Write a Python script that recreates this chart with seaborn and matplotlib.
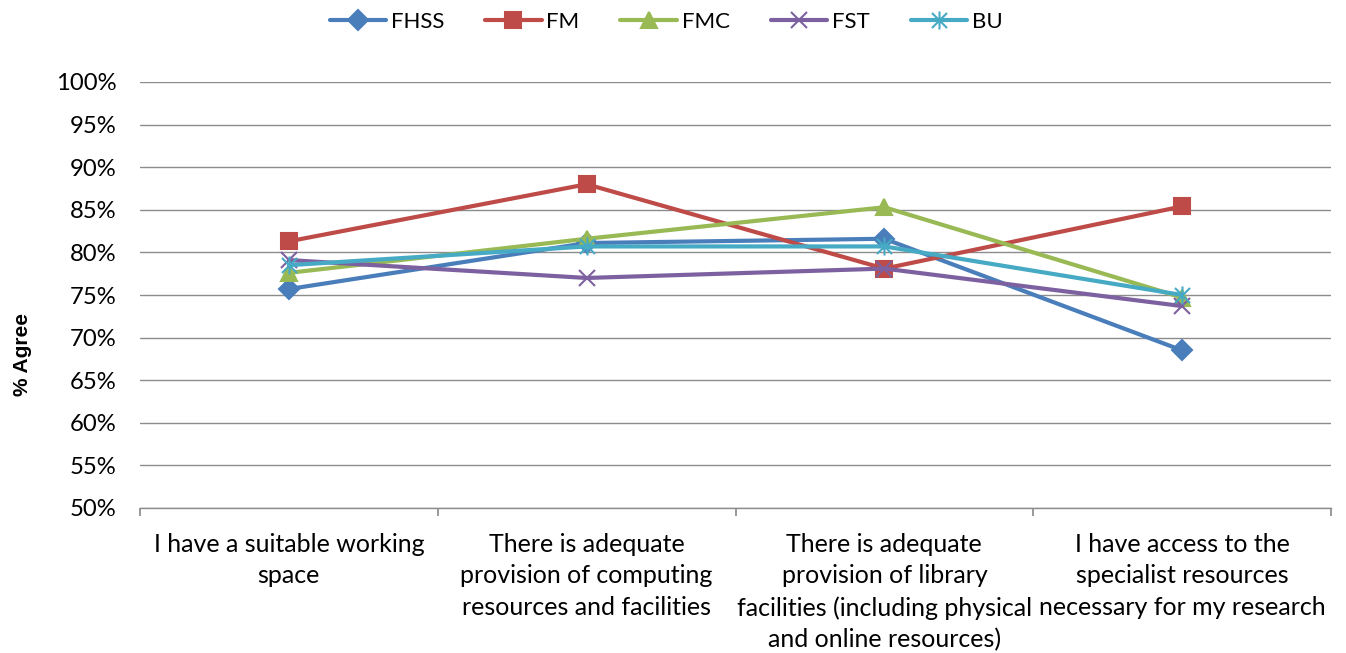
import matplotlib
matplotlib.use("Agg")
import matplotlib.pyplot as plt
from matplotlib.path import Path
import seaborn as sns
import pandas as pd
import numpy as np

categories = [
    "I have a suitable working\nspace",
    "There is adequate\nprovision of computing\nresources and facilities",
    "There is adequate\nprovision of library\nfacilities (including physical\nand online resources)",
    "I have access to the\nspecialist resources\nnecessary for my research",
]
series_names = ["FHSS", "FM", "FMC", "FST", "BU"]
fhss = [75.7, 81.1, 81.6, 68.5]
fm = [81.3, 88.0, 78.1, 85.4]
fmc = [77.6, 81.6, 85.3, 74.7]
fst = [79.1, 77.0, 78.1, 73.7]
bu = [78.5, 80.7, 80.7, 75.0]
yticks = list(range(50, 101, 5))

# Excel-style star marker: an "x" plus a vertical bar
star = Path([(-0.5, -0.5), (0.5, 0.5), (-0.5, 0.5), (0.5, -0.5), (0, -0.6), (0, 0.6)],
            [Path.MOVETO, Path.LINETO, Path.MOVETO, Path.LINETO, Path.MOVETO, Path.LINETO])

colors = {"FHSS": "#4A7EBB", "FM": "#BE4B48", "FMC": "#98B954", "FST": "#7D60A0", "BU": "#46AAC5"}
markers = {"FHSS": "D", "FM": "s", "FMC": "^", "FST": "x", "BU": star}
sizes = {"FHSS": 10, "FM": 12, "FMC": 12, "FST": 11, "BU": 13}

rows = []
for name, vals in zip(series_names, [fhss, fm, fmc, fst, bu]):
    for i, v in enumerate(vals):
        rows.append({"series": name, "x": i, "value": v})
df = pd.DataFrame(rows)

sns.set_theme(style="white")
plt.rcParams["font.family"] = ["Lato", "DejaVu Sans"]
plt.rcParams["text.color"] = "black"

fig = plt.figure(figsize=(13.46, 6.53), dpi=100)
ax = fig.add_axes([140 / 1346, 1 - 508 / 653, (1331 - 140) / 1346, (508 - 82) / 653])

for name in series_names:
    sub = df[df.series == name]
    sns.lineplot(data=sub, x="x", y="value", ax=ax, color=colors[name], linewidth=3.0,
                 marker=markers[name], markersize=sizes[name], markeredgewidth=1.5,
                 markeredgecolor=colors[name], label=name, zorder=3)

ax.set_xlim(-0.5, 3.5)
ax.set_ylim(50, 100)
ax.set_yticks(yticks)
ax.set_yticklabels([f"{t}%" for t in yticks], fontsize=17.2, color="black")
ax.yaxis.grid(True, color="#8c8c8c", linewidth=1)
ax.set_axisbelow(True)

ax.set_xticks([-0.5, 0.5, 1.5, 2.5, 3.5])
ax.set_xticklabels([])
ax.set_xticks(range(4), minor=True)
ax.set_xticklabels(categories, minor=True, fontsize=18, linespacing=1.44, color="black")
ax.tick_params(axis="x", which="major", length=6, color="#8c8c8c", direction="out", bottom=True)
ax.tick_params(axis="x", which="minor", length=0, pad=18)
ax.tick_params(axis="y", length=0, pad=17)

for s in ["top", "right", "left"]:
    ax.spines[s].set_visible(False)
ax.spines["bottom"].set_color("#8c8c8c")
ax.spines["bottom"].set_linewidth(1)

ax.set_xlabel("")
ax.set_ylabel("% Agree", fontsize=15, fontweight="bold", color="black",
              family=["Liberation Sans", "DejaVu Sans"])
ax.yaxis.set_label_coords((32 - 140) / 1191, (508 - 354) / 426)

ax.get_legend().remove()
handles, labels = ax.get_legend_handles_labels()
leg = fig.legend(handles, labels, loc="center", bbox_to_anchor=(666 / 1346, 1 - 22 / 653), ncol=5,
                 frameon=False, fontsize=16, handlelength=2.55, columnspacing=1.85,
                 handletextpad=0.2, borderpad=0, borderaxespad=0)

fig.savefig("out.png", dpi=100)
